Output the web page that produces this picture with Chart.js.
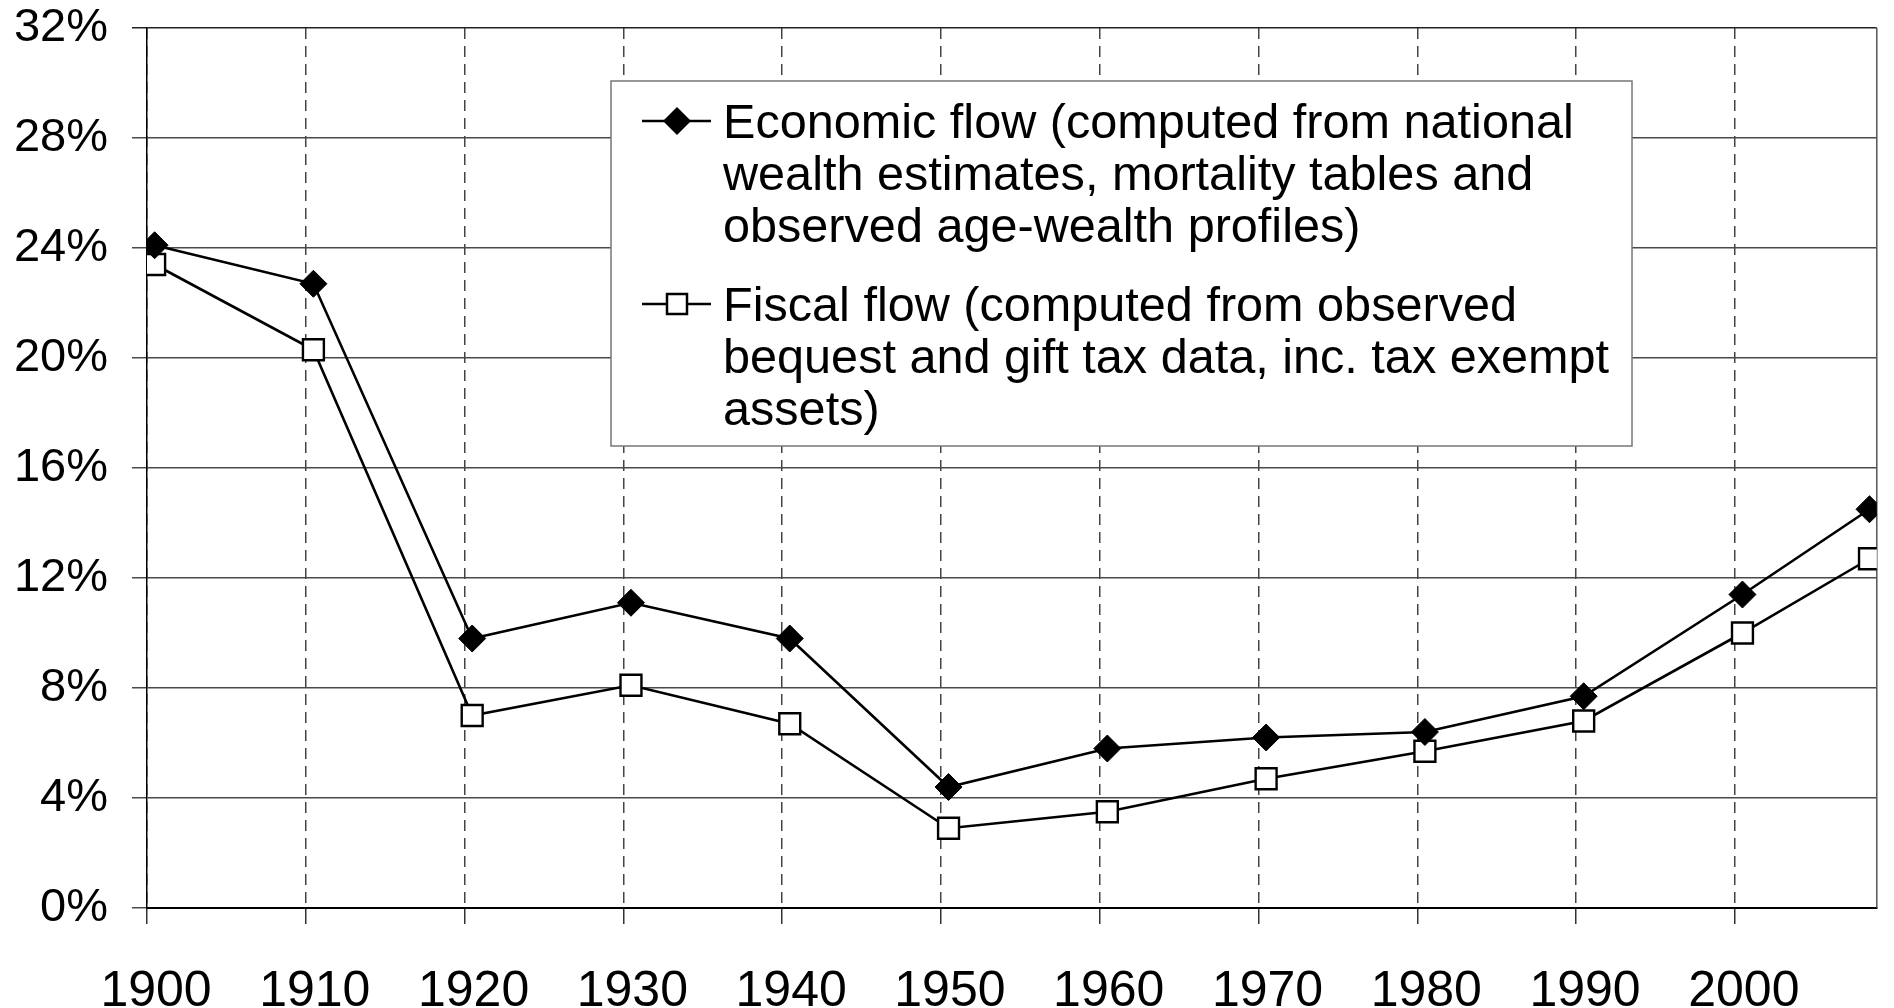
<!DOCTYPE html>
<html>
<head>
<meta charset="utf-8">
<script src="https://cdn.jsdelivr.net/npm/chart.js@4/dist/chart.umd.min.js"></script>
<style>
  html, body { margin: 0; padding: 0; background: #fff; }
  canvas { display: block; }
</style>
</head>
<body>
<canvas id="chart" width="1894" height="1008"></canvas>
<script>
// --- DATA ---
const years = [1900, 1910, 1920, 1930, 1940, 1950, 1960, 1970, 1980, 1990, 2000, 2008];
const economicFlow = [24.1, 22.7, 9.8, 11.1, 9.8, 4.4, 5.8, 6.2, 6.4, 7.7, 11.4, 14.5];
const fiscalFlow = [23.4, 20.3, 7.0, 8.1, 6.7, 2.9, 3.5, 4.7, 5.7, 6.8, 10.0, 12.7];
const yearTicks = [1900, 1910, 1920, 1930, 1940, 1950, 1960, 1970, 1980, 1990, 2000];
const pctTicks = [0, 4, 8, 12, 16, 20, 24, 28, 32];
const economicLabel = ['Economic flow (computed from national', 'wealth estimates, mortality tables and', 'observed age-wealth profiles)'];
const fiscalLabel = ['Fiscal flow (computed from observed', 'bequest and gift tax data, inc. tax exempt', 'assets)'];

// --- STYLE ---
const FONT = "'Liberation Sans', Arial, sans-serif";
const GRID_SHIFT = 0.48;   // decade gridlines sit a little left of the points
const X_MAX = 2008.46;

function toPoints(vals) {
    return vals.map((v, i) => ({ x: years[i], y: v }));
}

// legend box + right frame line
const frameAndLegend = {
    id: 'frameAndLegend',
    beforeDatasetsDraw(chart) {
        const { ctx, chartArea: a } = chart;
        ctx.save();
        ctx.strokeStyle = '#555';
        ctx.lineWidth = 1.5;
        ctx.beginPath();
        ctx.moveTo(a.right, a.top);
        ctx.lineTo(a.right, a.bottom);
        ctx.stroke();
        ctx.restore();
    },
    afterDraw(chart) {
        const ctx = chart.ctx;
        ctx.save();
        // box
        ctx.fillStyle = '#fff';
        ctx.fillRect(611, 81, 1021, 365);
        ctx.strokeStyle = '#777';
        ctx.lineWidth = 1.5;
        ctx.strokeRect(611, 81, 1021, 365);

        ctx.font = '48.6px ' + FONT;
        ctx.fillStyle = '#000';
        ctx.textBaseline = 'alphabetic';
        ctx.textAlign = 'left';
        const entries = [
            { lines: economicLabel, base: 138, marker: 'diamond' },
            { lines: fiscalLabel, base: 321, marker: 'square' }
        ];
        entries.forEach(e => {
            e.lines.forEach((t, i) => ctx.fillText(t, 723, e.base + i * 52));
            const cy = e.base - 17, cx = 677;
            ctx.strokeStyle = '#000';
            ctx.lineWidth = 2.5;
            ctx.beginPath();
            ctx.moveTo(642, cy);
            ctx.lineTo(711, cy);
            ctx.stroke();
            ctx.beginPath();
            if (e.marker === 'diamond') {
                ctx.moveTo(cx, cy - 14);
                ctx.lineTo(cx + 14, cy);
                ctx.lineTo(cx, cy + 14);
                ctx.lineTo(cx - 14, cy);
                ctx.closePath();
                ctx.fillStyle = '#000';
                ctx.fill();
            } else {
                ctx.rect(cx - 10, cy - 10, 20, 20);
                ctx.fillStyle = '#fff';
                ctx.fill();
                ctx.stroke();
            }
        });
        ctx.restore();
    }
};

const chart = new Chart(document.getElementById('chart'), {
    type: 'line',
    data: {
        datasets: [
            {
                label: economicLabel.join(' '),
                data: toPoints(economicFlow),
                borderColor: '#000',
                borderWidth: 2.6,
                pointStyle: 'rectRot',
                pointRadius: 13.5,
                pointBackgroundColor: '#000',
                pointBorderColor: '#000',
                pointBorderWidth: 1,
                tension: 0
            },
            {
                label: fiscalLabel.join(' '),
                data: toPoints(fiscalFlow),
                borderColor: '#000',
                borderWidth: 2.6,
                pointStyle: 'rect',
                pointRadius: 14.8,
                pointBackgroundColor: '#fff',
                pointBorderColor: '#000',
                pointBorderWidth: 2.4,
                tension: 0
            }
        ]
    },
    options: {
        responsive: false,
        animation: false,
        layout: { padding: { top: 28, right: 1.5, left: 0, bottom: 0 } },
        plugins: { legend: { display: false }, tooltip: { enabled: false } },
        scales: {
            x: {
                type: 'linear',
                min: yearTicks[0] - GRID_SHIFT,
                max: X_MAX,
                afterBuildTicks: s => { s.ticks = yearTicks.map(y => ({ value: y - GRID_SHIFT })); },
                afterFit: s => { s.height = 100; },
                ticks: {
                    callback: (v, i) => String(yearTicks[i]),
                    font: { family: FONT, size: 50 },
                    color: '#000',
                    padding: 38,
                    labelOffset: 9,
                    autoSkip: false,
                    maxRotation: 0
                },
                grid: { color: '#444', lineWidth: 1.5, tickLength: 16, tickColor: '#333' },
                border: { color: '#000', width: 2, dash: [11, 7] }
            },
            y: {
                min: 0,
                max: 32,
                afterBuildTicks: s => { s.ticks = pctTicks.map(v => ({ value: v })); },
                afterFit: s => { s.width = 147; s.paddingTop = 0; s.paddingBottom = 0; },
                ticks: {
                    callback: v => v + '%',
                    font: { family: FONT, size: 47 },
                    color: '#000',
                    padding: 24
                },
                grid: {
                    color: c => (c.tick && c.tick.value === 32 ? '#222' : '#4a4a4a'),
                    lineWidth: 1.5,
                    tickLength: 15
                },
                border: { color: '#000', width: 1.5 }
            }
        }
    },
    plugins: [frameAndLegend]
});
</script>
</body>
</html>
